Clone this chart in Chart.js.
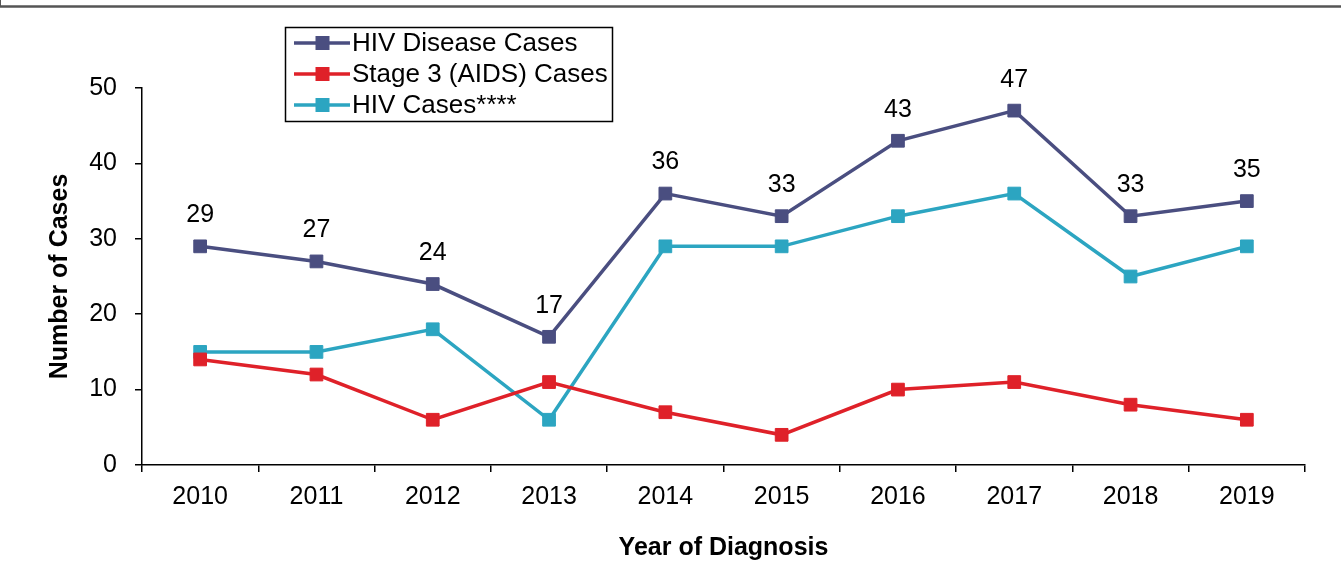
<!DOCTYPE html>
<html>
<head>
<meta charset="utf-8">
<script src="https://cdn.jsdelivr.net/npm/chart.js@4.4.1/dist/chart.umd.min.js"></script>
<style>
  html, body { margin: 0; padding: 0; background: #fff; }
  #wrap { width: 1341px; height: 572px; }
</style>
</head>
<body>
<div id="wrap"><canvas id="myChart" width="1341" height="572"></canvas></div>
<script>
const years = ['2010', '2011', '2012', '2013', '2014', '2015', '2016', '2017', '2018', '2019'];
const hivDisease = [29, 27, 24, 17, 36, 33, 43, 47, 33, 35];
const stage3 = [14, 12, 6, 11, 7, 4, 10, 11, 8, 6];
const hivCases = [15, 15, 18, 6, 29, 29, 33, 36, 25, 29];
const yTicks = [0, 10, 20, 30, 40, 50];

const fontFamily = '"Liberation Sans", Arial, sans-serif';

// frame edge + white background
const framePlugin = {
    id: 'frame',
    beforeDraw(chart) {
        const c = chart.ctx;
        c.save();
        c.fillStyle = '#fff';
        c.fillRect(0, 0, chart.width, chart.height);
        c.strokeStyle = '#555';
        c.lineWidth = 2.5;
        c.beginPath();
        c.moveTo(0, 6.5);
        c.lineTo(chart.width, 6.5);
        c.stroke();
        c.lineWidth = 1;
        c.beginPath();
        c.moveTo(0.5, 0);
        c.lineTo(0.5, 7);
        c.stroke();
        c.restore();
    }
};

// value labels above HIV Disease Cases
const labelPlugin = {
    id: 'valueLabels',
    afterDatasetsDraw(chart) {
        const c = chart.ctx;
        const meta = chart.getDatasetMeta(0);
        c.save();
        c.font = '25px ' + fontFamily;
        c.fillStyle = '#000';
        c.textAlign = 'center';
        c.textBaseline = 'middle';
        meta.data.forEach((pt, i) => {
            c.fillText(String(hivDisease[i]), pt.x, pt.y - 31);
        });
        c.restore();
    }
};

// boxed legend floating over the plot
const legendPlugin = {
    id: 'boxLegend',
    afterDraw(chart) {
        const c = chart.ctx;
        c.save();
        c.fillStyle = '#fff';
        c.fillRect(285, 27, 328, 95);
        c.strokeStyle = '#000';
        c.lineWidth = 1.5;
        c.strokeRect(285.5, 27.5, 327, 94);
        c.font = '26px ' + fontFamily;
        c.textBaseline = 'middle';
        chart.data.datasets.forEach((ds, i) => {
            const y = 43 + i * 31;
            c.strokeStyle = ds.borderColor;
            c.lineWidth = 3.5;
            c.beginPath();
            c.moveTo(294, y);
            c.lineTo(350, y);
            c.stroke();
            c.fillStyle = ds.pointBackgroundColor;
            c.fillRect(315.5, y - 7, 14, 14);
            c.fillStyle = '#000';
            c.fillText(ds.label, 352, y + 1);
        });
        c.restore();
    }
};

const ctx = document.getElementById('myChart').getContext('2d');

function series(label, data, color) {
    return {
        label: label,
        data: data,
        borderColor: color,
        backgroundColor: color,
        pointBackgroundColor: color,
        pointBorderColor: color,
        borderWidth: 3.5,
        pointStyle: 'rect',
        pointRadius: 9,
        pointBorderWidth: 1,
        tension: 0
    };
}

var myChart = new Chart(ctx, { //eslint-disable-line
    type: 'line',
    data: {
        labels: years,
        datasets: [
            series('HIV Disease Cases', hivDisease, '#4A4E80'),
            series('Stage 3 (AIDS) Cases', stage3, '#DF2129'),
            series('HIV Cases****', hivCases, '#2CA5C1')
        ]
    },
    plugins: [framePlugin, labelPlugin, legendPlugin],
    options: {
        responsive: false,
        animation: false,
        events: [],
        layout: {
            padding: { top: 88, right: 36, left: 0, bottom: 0 }
        },
        plugins: {
            legend: { display: false },
            tooltip: { enabled: false }
        },
        scales: {
            x: {
                offset: true,
                grid: {
                    offset: true,
                    drawOnChartArea: false,
                    drawTicks: true,
                    tickLength: 7,
                    color: '#000',
                    lineWidth: 1.5
                },
                border: { display: true, color: '#000', width: 1.5 },
                ticks: {
                    color: '#000',
                    padding: 10,
                    maxRotation: 0,
                    font: { family: fontFamily, size: 25 }
                },
                title: {
                    display: true,
                    text: 'Year of Diagnosis',
                    color: '#000',
                    padding: { top: 0, bottom: 9 },
                    font: { family: fontFamily, size: 25, weight: 'bold' }
                },
                afterFit(scale) { scale.height = 107; }
            },
            y: {
                min: 0,
                max: 50,
                afterBuildTicks(scale) {
                    scale.ticks = yTicks.map(v => ({ value: v }));
                },
                grid: {
                    drawOnChartArea: false,
                    drawTicks: true,
                    tickLength: 7,
                    color: '#000',
                    lineWidth: 1.5
                },
                border: { display: true, color: '#000', width: 1.5 },
                ticks: {
                    color: '#000',
                    padding: 18,
                    font: { family: fontFamily, size: 25 }
                },
                title: {
                    display: true,
                    text: 'Number of Cases',
                    color: '#000',
                    padding: { top: 45, bottom: 0 },
                    font: { family: fontFamily, size: 25, weight: 'bold' }
                },
                afterFit(scale) { scale.width = 142; }
            }
        }
    }
});
</script>
</body>
</html>
